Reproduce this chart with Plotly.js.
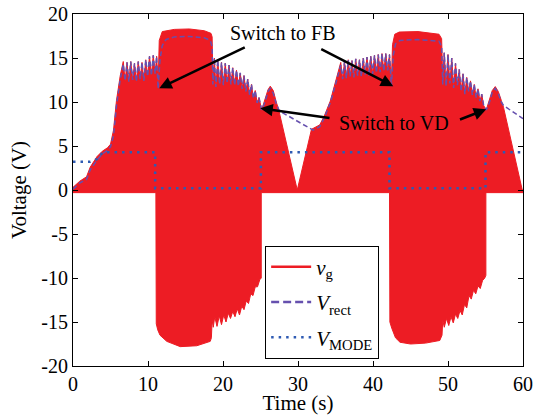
<!DOCTYPE html>
<html>
<head>
<meta charset="utf-8">
<script src="https://cdn.plot.ly/plotly-3.0.1.min.js"></script>
</head>
<body style="margin:0">
<div id="chart" style="width:541px;height:415px"></div>
<script>
// ---- data ----
// jagged (switching ripple) segments, shared by the v_g envelope and V_rect
const jag1X = [6.95,7.2,7.45,7.7,7.95,8.2,8.45,8.7,8.95,9.2,9.45,9.7,9.95,10.2,10.45,10.7,10.95,11.15];
const jag1Y = [12.4,14.5,12.3,14.6,12.5,14.4,12.3,14.6,12.6,14.5,12.4,14.8,12.9,15.2,13.0,15.3,13.2,15.2];
const jag2X = [18.85,19.05,19.3,19.55,19.8,20.05,20.3,20.55,20.8,21.05,21.3,21.55,21.8,22.05,22.3,22.55,22.8,23.05,23.3,23.55,23.8,24.05,24.3,24.55,24.8,25.15];
const jag2Y = [15.0,11.7,14.8,12.0,14.5,11.9,14.4,12.1,14.2,12.0,13.9,11.9,13.6,11.8,13.3,11.5,13.0,11.2,12.6,10.8,12.0,10.4,11.3,9.9,10.5,9.1];
const jag3X = [35.95,36.2,36.45,36.7,36.95,37.2,37.45,37.7,37.95,38.2,38.45,38.7,38.95,39.2,39.45,39.7,39.95,40.2,40.45,40.7,40.95,41.2,41.45,41.7,41.95,42.2];
const jag3Y = [12.6,14.6,12.7,14.8,12.9,14.7,12.8,14.9,13.0,14.8,12.9,15.0,13.1,15.1,13.0,15.2,13.2,15.3,13.3,15.4,13.4,15.5,13.5,15.5,13.6,15.4];
const jag4X = [49.5,49.75,50.0,50.25,50.5,50.75,51.0,51.25,51.5,51.75,52.0,52.25,52.5,52.75,53.0,53.25,53.5,53.75,54.0,54.25,54.5,54.75,55.1];
const jag4Y = [15.6,11.8,15.4,12.1,15.0,11.6,14.4,11.9,13.7,11.2,13.2,10.9,12.8,11.2,12.4,10.8,12.0,10.5,11.5,10.1,10.9,9.6,9.1];

// V_rect (dashed)
const vrectX = [0.0,0.9,1.8,2.3,3.2,3.9,4.6,5.0,5.4,5.8,6.3,6.7, ...jag1X,
  11.35,11.6,11.9,12.4,13.5,15.5,17.5,18.3,18.55,18.65, ...jag2X,
  25.6,26.0,26.3,26.7,27.1,27.5,32.0,32.9,33.5,34.3,35.0,35.7, ...jag3X,
  42.45,42.7,43.0,43.6,46.0,48.8,49.15,49.3, ...jag4X,
  55.5,55.9,56.3,56.7,57.1,57.4,60.0];
const vrectY = [0.1,0.8,1.2,2.3,3.4,4.1,4.5,4.9,6.2,9.6,12.6,14.3, ...jag1Y,
  11.5,14.8,16.4,17.1,17.4,17.45,17.3,17.0,16.3,12.0, ...jag2Y,
  10.0,11.2,11.55,11.0,9.8,9.0,6.8,7.2,8.2,9.9,12.0,14.2, ...jag3Y,
  11.8,15.3,16.6,17.0,17.1,16.9,16.3,12.0, ...jag4Y,
  9.9,11.1,11.55,11.0,10.0,9.6,8.1];

// v_g upper envelope
const vgTopX = [0.0,0.9,1.8,2.3,3.2,3.9,4.6,5.0,5.4,5.8,6.3,6.7, ...jag1X,
  11.35,11.5,11.9,13.5,15.5,17.5,18.4,18.55,18.65, ...jag2X,
  25.6,26.0,26.3,26.7,27.1,27.4,29.9,31.8,32.9,33.5,34.3,35.0,35.7, ...jag3X,
  42.45,42.6,42.9,43.5,46.0,48.8,49.15,49.3, ...jag4X,
  55.5,55.9,56.3,56.7,57.1,57.4,59.9,60.0];
const vgTopY = [0.3,1.0,1.5,2.6,3.8,4.4,4.8,5.2,6.8,10.2,13.0,14.6, ...jag1Y,
  12.0,17.0,18.0,18.25,18.3,18.1,17.8,17.4,12.5, ...jag2Y,
  10.2,11.4,11.8,11.3,10.0,9.2,0.0,6.9,7.4,8.4,10.1,12.2,14.5, ...jag3Y,
  12.2,16.5,17.7,17.95,18.0,17.7,17.2,12.3, ...jag4Y,
  10.1,11.3,11.75,11.2,10.2,9.4,0.0,0.0];

// v_g lower envelope
const vgBotX = [0.0,11.05,11.1,11.3,11.6,12.5,14.3,16.5,18.3,18.45,18.55,
  18.7,18.9,19.2,19.5,19.8,20.1,20.4,20.7,21.0,21.3,21.6,21.9,22.2,22.5,22.8,23.1,23.4,23.7,24.0,24.3,24.6,24.9,25.1,25.1,
  42.2,42.25,42.5,43.0,43.6,45.0,47.0,48.9,49.2,49.3,
  49.5,49.8,50.1,50.4,50.7,51.0,51.3,51.6,51.9,52.2,52.5,52.8,53.1,53.4,53.7,54.0,54.3,54.6,54.9,55.05,55.05,60.0];
const vgBotY = [-0.3,-0.3,-15.2,-15.9,-16.5,-17.2,-17.8,-17.7,-17.2,-16.8,-14.8,
  -15.6,-14.4,-15.5,-14.3,-15.3,-14.2,-15.0,-14.0,-14.6,-13.8,-14.4,-13.5,-14.2,-13.2,-13.6,-12.6,-12.9,-11.8,-12.0,-11.0,-11.0,-10.2,-10.0,-0.3,
  -0.3,-15.0,-15.7,-16.8,-17.3,-17.5,-17.4,-17.1,-16.5,-14.8,
  -15.6,-14.6,-15.4,-14.4,-15.1,-14.1,-14.6,-13.7,-14.2,-13.0,-13.4,-12.0,-12.4,-11.4,-11.8,-10.9,-11.2,-10.3,-10.0,-9.7,-0.3,-0.3];

// V_MODE (dotted)
const modeX = [0.0,2.3,3.2,3.9,4.5,10.95,10.95,25.05,25.05,42.2,42.2,55.0,55.0,60.0];
const modeY = [3.2,3.2,3.5,4.2,4.3,4.3,0.2,0.2,4.3,4.3,0.2,0.2,4.3,4.3];

const yTickVals = [-20,-15,-10,-5,0,5,10,15,20];
const yTickText = ['-20','-15','-10','-5','0','5','10','15','20'];
const xTickVals = [0,10,20,30,40,50,60];

// ---- styling ----
const RED = '#ED1C24', PURPLE = '#6650AE', BLUE = '#2F5BB3';
const FONT = 'Liberation Serif';

const traces = [
  {x: vgBotX, y: vgBotY, mode: 'lines', line: {color: RED, width: 1}, showlegend: false, hoverinfo: 'skip'},
  {x: vgTopX, y: vgTopY, mode: 'lines', fill: 'tonexty', fillcolor: RED, line: {color: RED, width: 1}, showlegend: false, hoverinfo: 'skip'},
  {x: vrectX, y: vrectY, mode: 'lines', line: {color: PURPLE, width: 1.5, dash: '5px,3px'}, showlegend: false},
  {x: modeX, y: modeY, mode: 'lines', line: {color: BLUE, width: 2.5, dash: '2.5px,5px'}, showlegend: false},
  // legend entries
  {x: [null], y: [null], mode: 'lines', name: '<i>v</i><sub>g</sub>', legendgroup: 'a', line: {color: RED, width: 2.5}},
  {x: [null], y: [null], mode: 'lines', name: '<i>V</i><sub>rect</sub>', legendgroup: 'b', line: {color: PURPLE, width: 2.5, dash: '8px,4px'}},
  {x: [null], y: [null], mode: 'lines', name: '<i>V</i><sub>MODE</sub>', legendgroup: 'c', line: {color: BLUE, width: 2.5, dash: '2.5px,5px'}}
];

function arrow(hx, hy, tx, ty) {
  return {x: hx, y: hy, ax: tx, ay: ty, axref: 'x', ayref: 'y', xref: 'x', yref: 'y',
    text: '', showarrow: true, arrowhead: 2, arrowsize: 1, arrowwidth: 2.5, arrowcolor: '#000', standoff: 0, startstandoff: 0};
}

const layout = {
  width: 541, height: 415,
  margin: {l: 73, r: 18, t: 14, b: 49},
  paper_bgcolor: '#fff', plot_bgcolor: '#fff',
  font: {family: FONT, size: 20, color: '#000'},
  xaxis: {range: [0, 60], tickvals: xTickVals, ticks: 'inside', ticklen: 5, tickcolor: '#000',
    showline: true, linecolor: '#000', linewidth: 1, mirror: 'ticks', showgrid: false, zeroline: false,
    tickfont: {family: FONT, size: 20, color: '#000'}, title: {text: 'Time (s)', font: {family: FONT, size: 21, color: '#000'}, standoff: 7}},
  yaxis: {range: [-20, 20], tickvals: yTickVals, ticktext: yTickText, ticks: 'inside', ticklen: 5, tickcolor: '#000',
    showline: true, linecolor: '#000', linewidth: 1, mirror: 'ticks', showgrid: false, zeroline: false,
    tickfont: {family: FONT, size: 20, color: '#000'}, title: {text: 'Voltage (V)', font: {family: FONT, size: 21, color: '#000'}, standoff: 8}},
  showlegend: true,
  legend: {x: 0.427, y: 0.342, xanchor: 'left', yanchor: 'top', bgcolor: '#fff', bordercolor: '#000', borderwidth: 1,
    font: {family: FONT, size: 21, color: '#000'}, itemwidth: 40, traceorder: 'grouped', tracegroupgap: 5},
  annotations: [
    {x: 28.05, y: 17.8, xref: 'x', yref: 'y', text: 'Switch to FB', showarrow: false, font: {family: FONT, size: 20, color: '#000'}},
    {x: 42.8, y: 7.6, xref: 'x', yref: 'y', text: 'Switch to VD', showarrow: false, font: {family: FONT, size: 20, color: '#000'}},
    arrow(11.5, 11.55, 23.1, 16.3),
    arrow(42.7, 11.8, 32.9, 16.1),
    arrow(24.97, 9.28, 34.4, 8.15),
    arrow(55.1, 9.17, 51.4, 7.95)
  ]
};

Plotly.newPlot('chart', traces, layout, {displayModeBar: false, staticPlot: true});
</script>
</body>
</html>
